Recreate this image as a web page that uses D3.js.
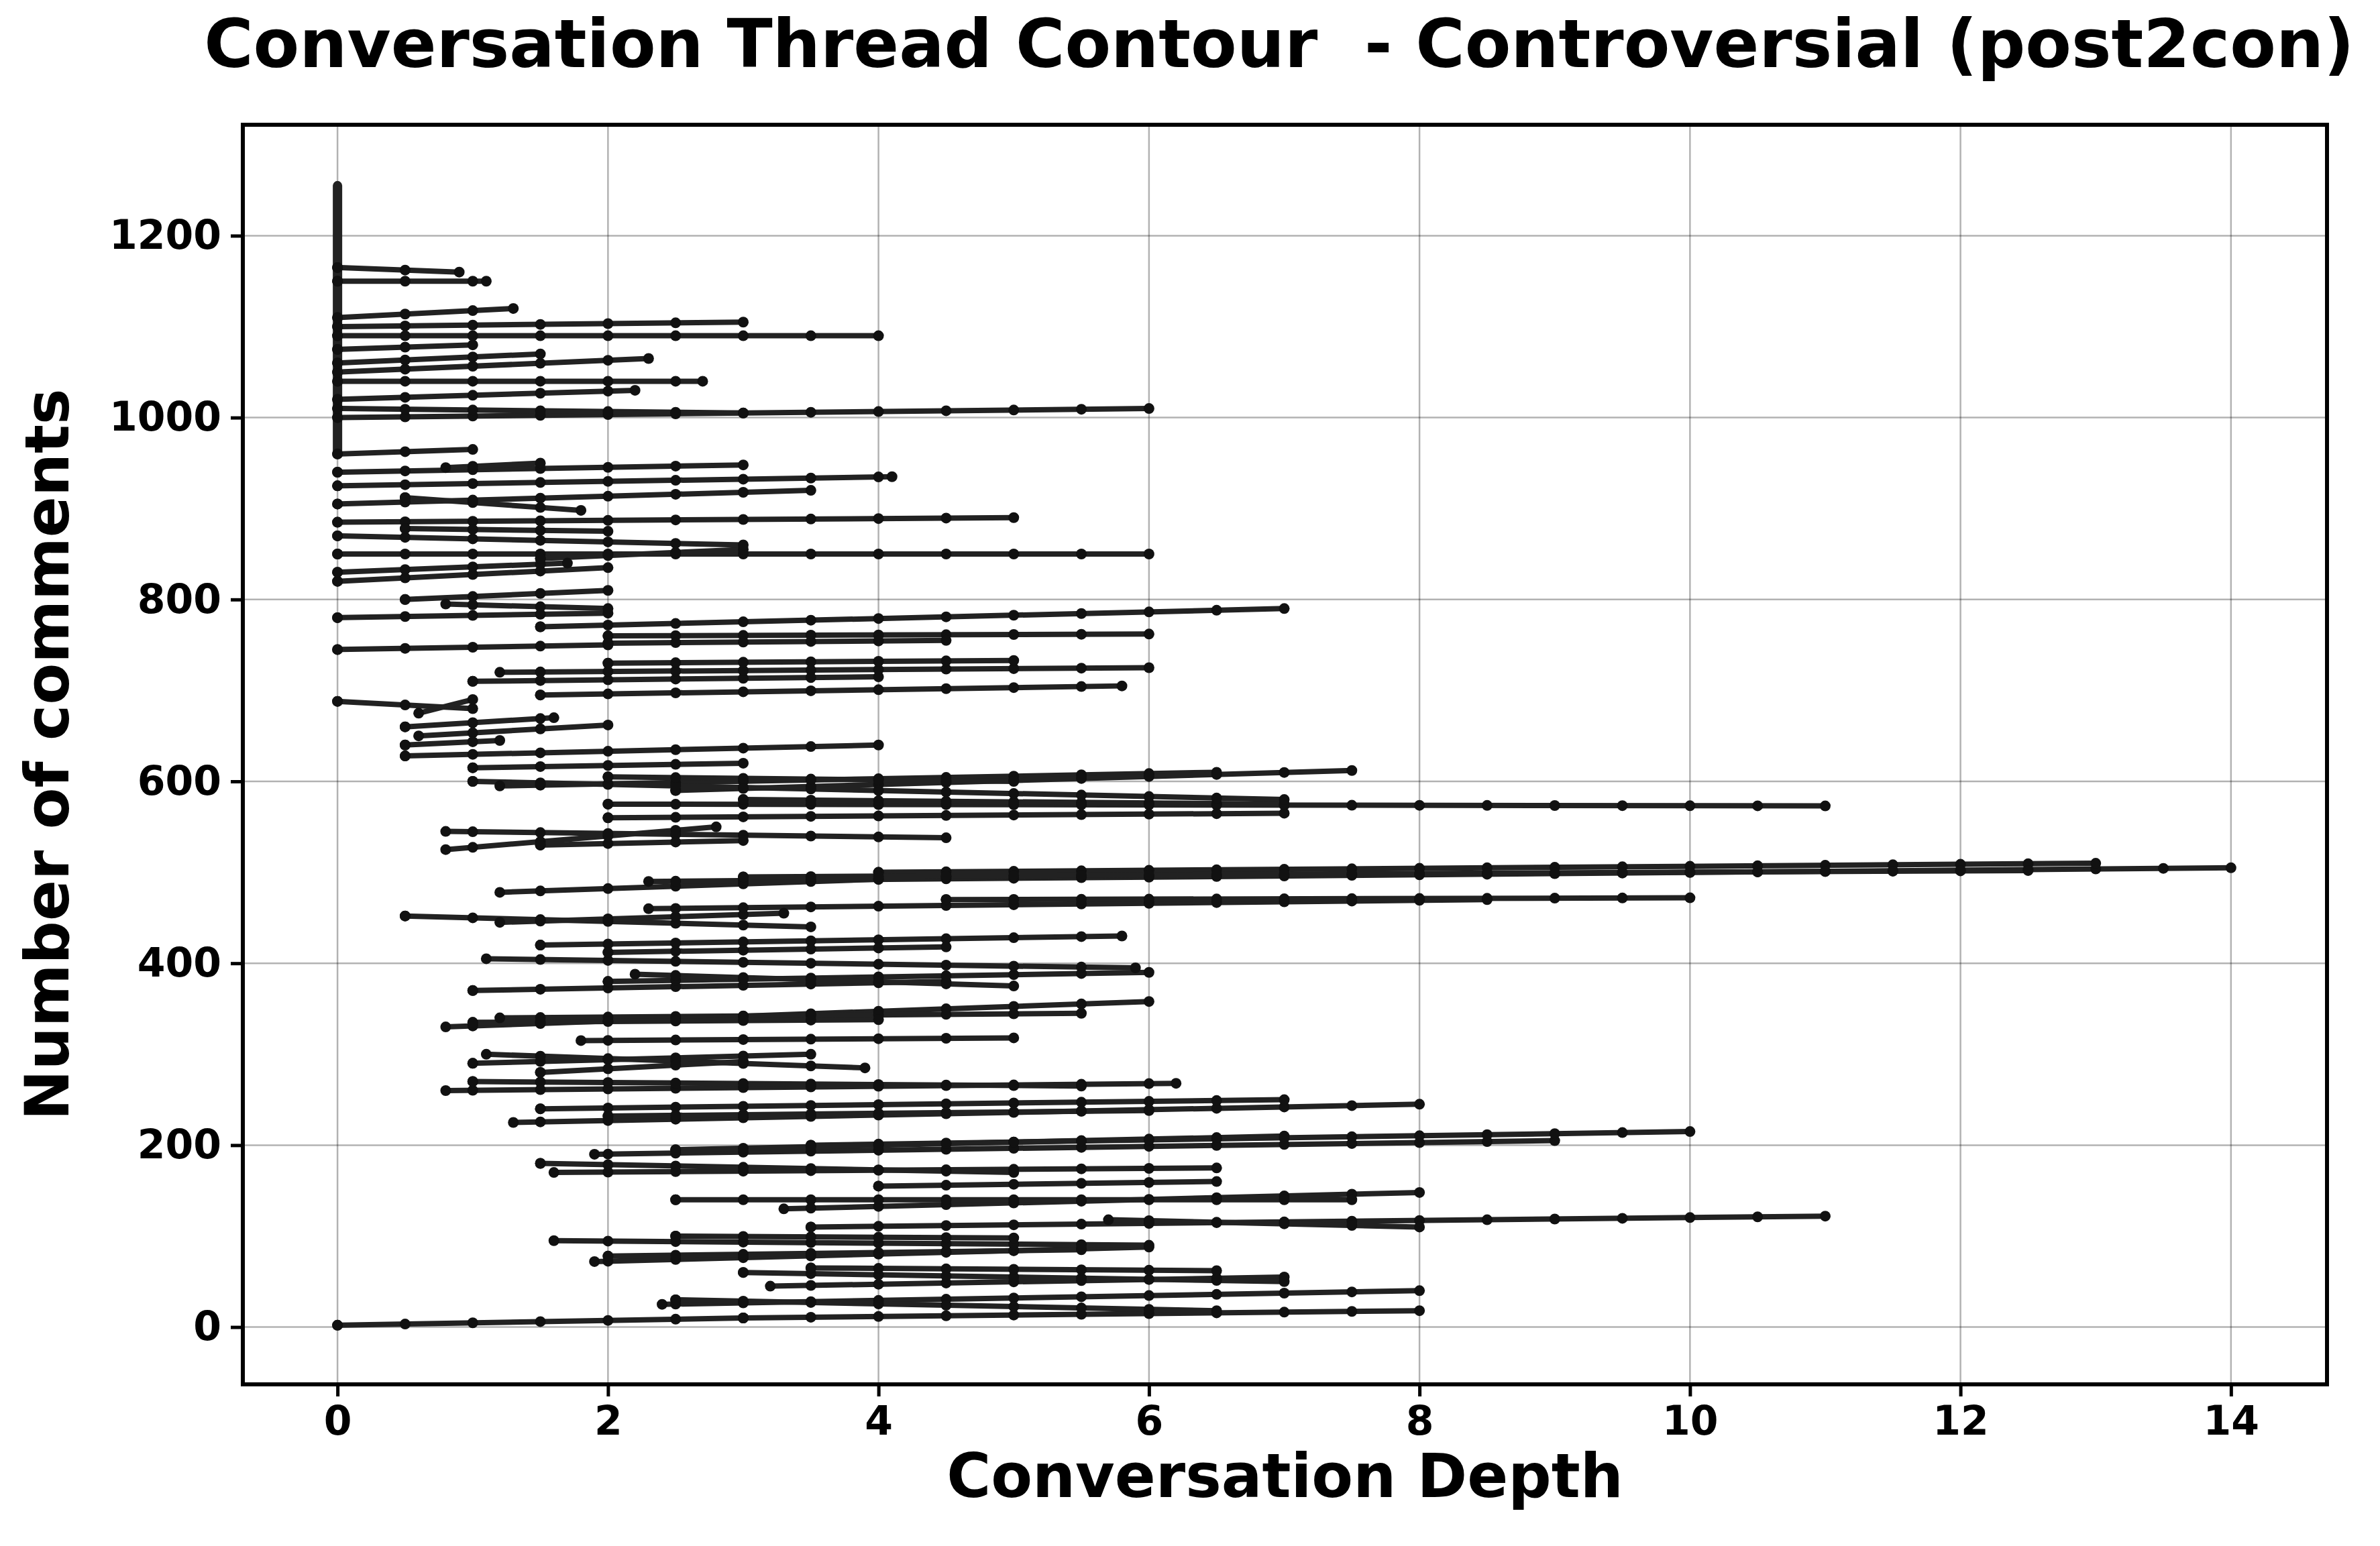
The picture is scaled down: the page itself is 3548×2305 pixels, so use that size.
<!DOCTYPE html>
<html><head><meta charset="utf-8">
<script src="https://cdn.jsdelivr.net/npm/d3@7"></script>
<style>body{margin:0;background:#fff}text{font-family:"DejaVu Sans";font-weight:bold}</style>
</head><body>
<script>
// thread segments: [depthStart, commentStart, depthEnd, commentEnd]
var segments = [
 [0,2,3,10],[3,10,8,18],[2.4,25,8,40],[2.5,30,6.5,18],[3.2,45,7,55],[3.0,60,7,50],[3.5,65,6.5,62],
 [1.9,72,6,88],[2,78,5.5,85],[1.6,95,6,90],[2.5,100,5,98],[3.5,110,11,122],[5.7,118,8,110],
 [3.3,130,8,148],[2.5,140,7.5,140],[4,155,6.5,160],[1.6,170,6.5,175],[1.5,180,5,170],
 [1.9,190,9,205],[3.5,200,10,215],[2.5,195,7,210],[1.3,225,8,245],[1.5,240,7,250],[2,232,6,238],
 [0.8,260,6.2,268],[1.0,270,5.5,265],[1.0,290,3.5,300],[1.1,300,3.9,285],[1.5,280,3,292],
 [1.8,315,5,318],[0.8,330,6,358],[1.2,340,5.5,345],[1,335,4,338],[1.0,370,4.5,380],
 [2,380,6,390],[2.2,388,5,375],[1.1,405,5.9,395],[1.5,420,5.8,430],[2,412,4.5,418],
 [0.5,452,3.5,440],[1.2,445,3.3,455],[2.3,460,8.5,470],[4.5,470,10,472],[1.2,478,4.5,495],
 [2.3,490,14,505],[4,500,13,510],[3,495,12.5,502],[0.8,525,2.8,550],[0.8,545,4.5,538],
 [1.5,530,3,535],[2,560,7,565],[2,575,11,573],[3,580,7,575],[1.2,595,6.5,610],
 [2.5,590,7.5,612],[1,600,7,580],[2,605,5,600],[0.5,628,4,640],[1,615,3,620],
 [0.6,650,2,662],[0.5,640,1.2,645],[0,688,1,680],[0.5,660,1.6,670],[0.6,675,1,690],
 [1.5,695,5.8,705],[1.0,710,4,715],[1.2,720,6,725],[2,730,5,733],[0,745,2,750],
 [2,760,6,762],[1.5,770,7,790],[2,752,4.5,755],[0,780,2,785],[0.5,800,2,810],
 [0.8,795,2,790],[0,820,2,835],[0,830,1.7,840],[0,850,6,850],[1.5,845,3,855],
 [0,870,3,860],[0,885,5,890],[0.5,878,2,875],[0,905,3.5,920],[0.5,912,1.8,898],
 [0,925,4.1,935],[0,940,3.0,948],[0.8,945,1.5,950],[0,960,1,965],[0,1000,6,1010],
 [0,1010,3,1005],[0,1020,2.2,1030],[0,1040,2.7,1040],[0,1050,2.3,1065],[0,1060,1.5,1070],
 [0,1075,1,1080],[0,1090,4,1090],[0,1100,3,1105],[0,1110,1.3,1120],[0,1150,1.1,1150],
 [0,1165,0.9,1160]
];
var rootSpan = [960, 1255];
var xTicks = [0,2,4,6,8,10,12,14];
var yTicks = [0,200,400,600,800,1000,1200];

var W = 3548, H = 2305;
var margin = {top: 186, right: 79, bottom: 241, left: 362},
    width = W - margin.left - margin.right,
    height = H - margin.top - margin.bottom;

var x = d3.scaleLinear().domain([-0.7, 14.71]).range([0, width]);
var y = d3.scaleLinear().domain([-63, 1322]).range([height, 0]);

var svg = d3.select("body").append("svg").attr("width", W).attr("height", H);
var g = svg.append("g").attr("transform", "translate(" + margin.left + "," + margin.top + ")");

// grid
g.selectAll(".gx").data(xTicks).enter().append("line")
  .attr("x1", d => x(d)).attr("x2", d => x(d)).attr("y1", 0).attr("y2", height)
  .style("stroke", "#000").style("stroke-opacity", 0.3).style("stroke-width", 2.5);
g.selectAll(".gy").data(yTicks).enter().append("line")
  .attr("y1", d => y(d)).attr("y2", d => y(d)).attr("x1", 0).attr("x2", width)
  .style("stroke", "#000").style("stroke-opacity", 0.3).style("stroke-width", 2.5);

// threads
g.selectAll(".seg").data(segments).enter().append("line")
  .attr("x1", d => x(d[0])).attr("y1", d => y(d[1]))
  .attr("x2", d => x(d[2])).attr("y2", d => y(d[3]))
  .style("stroke", "#222").style("stroke-width", 8);
g.append("line")
  .attr("x1", x(0)).attr("x2", x(0)).attr("y1", y(rootSpan[0])).attr("y2", y(rootSpan[1]))
  .style("stroke", "#222").style("stroke-width", 14).style("stroke-linecap", "round");

// dots at ends and at each half-depth crossing
var dots = [];
segments.forEach(function(s) {
  dots.push([s[0], s[1]], [s[2], s[3]]);
  for (var v = Math.ceil(s[0] * 2) / 2; v < s[2]; v += 0.5) {
    dots.push([v, s[1] + (s[3] - s[1]) * (v - s[0]) / (s[2] - s[0])]);
  }
});
g.selectAll(".dot").data(dots).enter().append("circle")
  .attr("cx", d => x(d[0])).attr("cy", d => y(d[1])).attr("r", 8).style("fill", "#111");

// axes
var ax = g.append("g").attr("transform", "translate(0," + height + ")")
  .call(d3.axisBottom(x).tickValues(xTicks).tickFormat(d3.format("d")).tickSize(18).tickPadding(14));
var ay = g.append("g").call(d3.axisLeft(y).tickValues(yTicks).tickFormat(d3.format("d")).tickSize(18).tickPadding(14));
[ax, ay].forEach(function(a) {
  a.select(".domain").remove();
  a.selectAll("line").style("stroke-width", 5);
  a.selectAll("text").style("font-size", "60px").style("font-family", "DejaVu Sans").style("font-weight", "bold");
});
g.append("rect").attr("width", width).attr("height", height)
  .style("fill", "none").style("stroke", "#000").style("stroke-width", 6);

svg.append("text").attr("x", 1907).attr("y", 100).attr("text-anchor", "middle")
  .style("font-size", "100px").style("white-space", "pre")
  .text("Conversation Thread Contour  - Controversial (post2con)");
svg.append("text").attr("x", margin.left + width / 2).attr("y", 2232).attr("text-anchor", "middle")
  .style("font-size", "90px").text("Conversation Depth");
svg.append("text").attr("transform", "rotate(-90)").attr("x", -(margin.top + height / 2)).attr("y", 102)
  .attr("text-anchor", "middle").style("font-size", "90px").text("Number of comments");
</script>
</body></html>
